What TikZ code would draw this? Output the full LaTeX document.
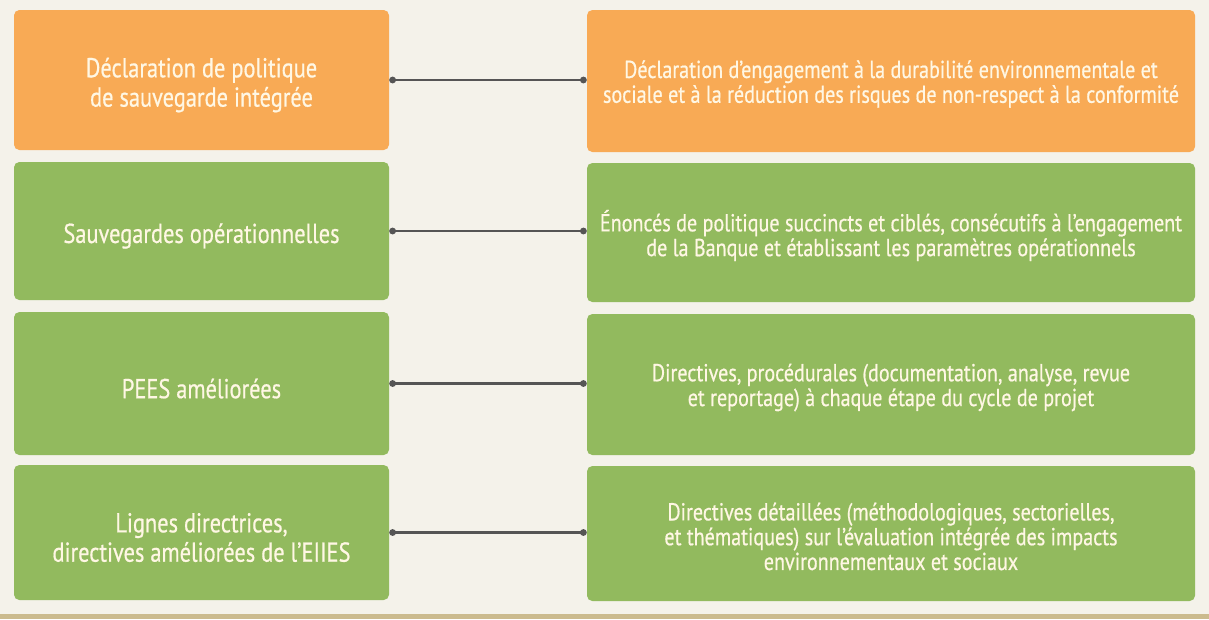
\documentclass[tikz,border=0pt]{standalone}
\usepackage{fontspec}
\setmainfont{PT Sans}[FakeStretch=0.82,FakeBold=0.6]
\usetikzlibrary{arrows.meta}
\definecolor{bg}{HTML}{F4F2EA}
\definecolor{org}{HTML}{F8AA55}
\definecolor{grn}{HTML}{92BA5E}
\definecolor{txt}{HTML}{FFF7E4}
\definecolor{lnk}{HTML}{555555}
\definecolor{band}{HTML}{CBBB8E}
\tikzset{
  box/.style={rounded corners=4pt, inner sep=0pt},
  lbox/.style={box, minimum width=375*0.75pt},
  rbox/.style={box, minimum width=608*0.75pt},
  ltxt/.style={text=txt, align=center, inner sep=0pt, yshift=-5*0.75pt, font=\fontsize{20.5}{22}\selectfont},
  rtxt/.style={text=txt, align=center, inner sep=0pt, yshift=-3*0.75pt, font=\fontsize{18.4}{18.6}\selectfont},
  link/.style={draw=lnk, line width=1.6pt, {Circle[length=5pt]}-{Circle[length=5pt]}}
}
\begin{document}
\begin{tikzpicture}[x=0.75pt,y=-0.75pt]
\fill[bg] (0,0) rectangle (1209,619);
\fill[band] (0,614) rectangle (1209,619);
\useasboundingbox (0,0) rectangle (1209,619);
% left column
\node[lbox, fill=org, minimum height=140*0.75pt, label={[ltxt]center:{Déclaration de politique\\de sauvegarde intégrée}}] (L1) at (201.5,80) {};
\node[lbox, fill=grn, minimum height=138*0.75pt, label={[ltxt]center:{Sauvegardes opérationnelles}}] (L2) at (201.5,231) {};
\node[lbox, fill=grn, minimum height=143*0.75pt, label={[ltxt]center:{PEES améliorées}}] (L3) at (201.5,383.5) {};
\node[lbox, fill=grn, minimum height=135*0.75pt, label={[ltxt]center:{Lignes directrices,\\directives améliorées de l’EIIES}}] (L4) at (201.5,532.5) {};
% right column
\node[rbox, fill=org, minimum height=142*0.75pt, label={[rtxt]center:{Déclaration d’engagement à la durabilité environnementale et\\sociale et à la réduction des risques de non-respect à la conformité}}] (R1) at (891,81) {};
\node[rbox, fill=grn, minimum height=139*0.75pt, label={[rtxt]center:{Énoncés de politique succincts et ciblés, consécutifs à l’engagement\\de la Banque et établissant les paramètres opérationnels}}] (R2) at (891,232.5) {};
\node[rbox, fill=grn, minimum height=141*0.75pt, label={[rtxt]center:{Directives, procédurales (documentation, analyse, revue\\et reportage) à chaque étape du cycle de projet}}] (R3) at (891,384.5) {};
\node[rbox, fill=grn, minimum height=135*0.75pt, label={[rtxt]center:{Directives détaillées (méthodologiques, sectorielles,\\et thématiques) sur l’évaluation intégrée des impacts\\environnementaux et sociaux}}] (R4) at (891,533.5) {};
% connectors
\draw[link] (L1.east) -- (L1.east -| R1.west);
\draw[link] (L2.east) -- (L2.east -| R2.west);
\draw[link] (L3.east) -- (L3.east -| R3.west);
\draw[link] (L4.east) -- (L4.east -| R4.west);
\end{tikzpicture}
\end{document}
